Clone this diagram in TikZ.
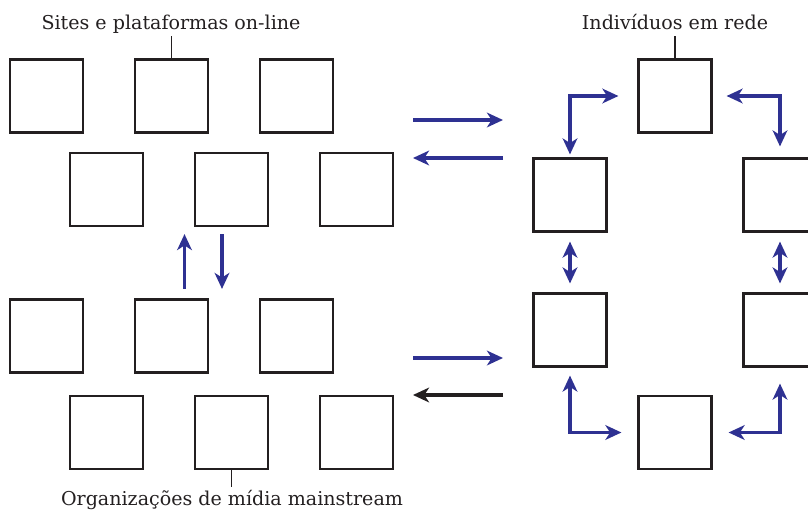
\documentclass[tikz,border=0pt]{standalone}
\usepackage{fontspec}
\setmainfont{DejaVu Serif}
\usetikzlibrary{arrows.meta,calc}
\definecolor{arrblue}{HTML}{2E3192}
\definecolor{ink}{HTML}{231F20}
\begin{document}
\begin{tikzpicture}[x=0.75pt,y=-0.75pt,
  tip/.tip={Stealth[length=12pt,width=11pt,inset=3.5pt]},
  sq/.style={draw=ink,line width=1.6pt,minimum size=54.75pt,inner sep=0pt,fill=white},
  flow/.style={draw=arrblue,line width=2.3pt,-tip},
  flow2/.style={draw=arrblue,line width=2.3pt,tip-tip},
  flowk/.style={draw=ink,line width=2.3pt,-tip},
  lab/.style={font=\fontsize{14.3}{16}\selectfont,text=ink,anchor=base,inner sep=0pt},
  tick/.style={draw=ink,line width=1pt}]
\useasboundingbox (0,0) rectangle (808,511);
\clip (0,0) rectangle (808,511);
% left group boxes
\node[sq] (a1) at (46.5,96) {};
\node[sq] (a2) at (171.5,96) {};
\node[sq] (a3) at (296.5,96) {};
\node[sq] (b1) at (106.5,189.5) {};
\node[sq] (b2) at (231.5,189.5) {};
\node[sq] (b3) at (356.5,189.5) {};
\node[sq] (c1) at (46.5,336) {};
\node[sq] (c2) at (171.5,336) {};
\node[sq] (c3) at (296.5,336) {};
\node[sq] (d1) at (106.5,432.5) {};
\node[sq] (d2) at (231.5,432.5) {};
\node[sq] (d3) at (356.5,432.5) {};
% right group boxes
\node[sq] (top) at (675,96) {};
\node[sq] (L1) at (570,195) {};
\node[sq] (L2) at (570,330) {};
\node[sq] (R1) at (780,195) {};
\node[sq] (R2) at (780,330) {};
\node[sq] (bot) at (675,432.5) {};
% labels
\node[lab] (t1) at (171,29) {Sites e plataformas on-line};
\node[lab] (t2) at (675,29) {Indivíduos em rede};
\node[lab] (t3) at (232,505) {Organizações de mídia mainstream};
\draw[tick] (a2.north) -- ++(0,-22);
\draw[tick] (top.north) -- ++(0,-22);
\draw[tick] (d2.south) -- ++(0,17);
% horizontal arrows between groups
\coordinate (h1l) at (413,120); \coordinate (h1r) at (503,120);
\coordinate (h2l) at (413,158); \coordinate (h2r) at (503,158);
\coordinate (h3l) at (413,358); \coordinate (h3r) at (503,358);
\coordinate (h4l) at (413,395); \coordinate (h4r) at (503,395);
\draw[flow] (h1l) -- (h1r);
\draw[flow] (h2r) -- (h2l);
\draw[flow] (h3l) -- (h3r);
\draw[flowk] (h4r) -- (h4l);
% vertical arrows in left group
\draw[flow] ($(c2.north)+(13,-9.5)$) -- ($(c2.north |- b2.south)+(13,7)$);
\draw[flow] ($(b2.south)+(-9.5,7)$) -- ($(b2.south |- c2.north)+(-9.5,-9.5)$);
% network arrows
\draw[flow2] ($(L1.north)+(0,-3)$) |- ($(top.west)+(-19,0)$);
\draw[flow2] ($(top.east)+(14,0)$) -| ($(R1.north)+(0,-11)$);
\draw[flow2] ($(L1.south)+(0,9)$) -- ($(L2.north)+(0,-9)$);
\draw[flow2] ($(R1.south)+(0,9)$) -- ($(R2.north)+(0,-9)$);
\draw[flow2] ($(L2.south)+(0,8)$) |- ($(bot.west)+(-16,0)$);
\draw[flow2] ($(bot.east)+(16,0)$) -| ($(R2.south)+(0,16)$);
\end{tikzpicture}
\end{document}
